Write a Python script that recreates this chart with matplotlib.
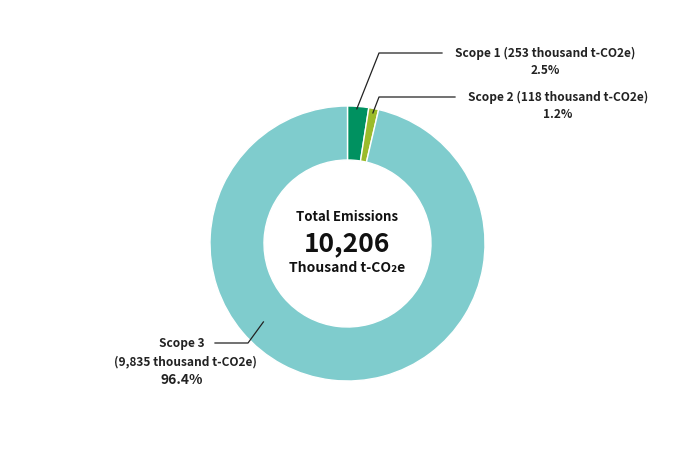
import numpy as np
import matplotlib.pyplot as plt

plt.rcParams['font.family'] = ['Noto Sans CJK JP', 'DejaVu Sans']

# data
scopes = ['Scope 1', 'Scope 2', 'Scope 3']
values = [253, 118, 9835]
amounts = ['253', '118', '9,835']
percents = ['2.5%', '1.2%', '96.4%']
colors = ['#009160', '#9bbb2b', '#7fcccd']
total_label = '10,206'

W, H = 690, 450

fig = plt.figure(figsize=(W / 100, H / 100), dpi=100)
ax = fig.add_axes([0, 0, 1, 1])

cx, cy = 347.5, H - 243.5
r_out = 137.5
ax.pie(values, colors=colors, startangle=90, counterclock=False,
       center=(cx, cy), radius=r_out, frame=True,
       wedgeprops=dict(width=54, edgecolor='white', linewidth=1))
ax.set_xlim(0, W)
ax.set_ylim(0, H)
ax.axis('off')

# wedge mid angles for leader lines
fr = np.array(values) / sum(values)
edges = 90 - 360 * np.concatenate([[0], np.cumsum(fr)])
mids = (edges[:-1] + edges[1:]) / 2


def on_ring(angle, r):
    a = np.deg2rad(angle)
    return cx + r * np.cos(a), cy + r * np.sin(a)


lc = '#222222'
tc = '#222222'
fs = 8.6
# Scope 1
x0, y0 = on_ring(mids[0] + 0.5, 135)
ax.plot([x0, 379, 442], [y0, H - 53, H - 53], color=lc, lw=0.9)
ax.text(455, H - 53, f'{scopes[0]} ({amounts[0]} thousand t-CO2e)', fontsize=fs,
        fontweight='bold', va='center', ha='left', color=tc)
ax.text(545, H - 71, percents[0], fontsize=fs, fontweight='bold',
        va='center', ha='center', color=tc)
# Scope 2
x0, y0 = on_ring(mids[1], 133)
ax.plot([x0, 379, 455], [y0, H - 97, H - 97], color=lc, lw=0.9)
ax.text(468, H - 97, f'{scopes[1]} ({amounts[1]} thousand t-CO2e)', fontsize=fs,
        fontweight='bold', va='center', ha='left', color=tc)
ax.text(558, H - 115, percents[1], fontsize=fs, fontweight='bold',
        va='center', ha='center', color=tc)
# Scope 3
x0, y0 = on_ring(-137, 115)
ax.plot([x0, 248, 215], [y0, H - 343, H - 343], color=lc, lw=0.9)
ax.text(182, H - 343, scopes[2], fontsize=fs, fontweight='bold',
        va='center', ha='center', color=tc)
ax.text(185, H - 362, f'({amounts[2]} thousand t-CO2e)', fontsize=fs,
        fontweight='bold', va='center', ha='center', color=tc)
ax.text(182, H - 380, percents[2], fontsize=10, fontweight='bold',
        va='center', ha='center', color=tc)

# centre text
ax.text(cx, H - 217, 'Total Emissions', fontsize=9.5, fontweight='bold',
        ha='center', va='center', color='#111111')
ax.text(cx, H - 244, total_label, fontsize=19, fontweight='bold',
        ha='center', va='center', color='#111111')
ax.text(cx, H - 268, 'Thousand t-CO\u2082e', fontsize=10,
        fontweight='bold', ha='center', va='center', color='#111111')

fig.savefig('out.png', dpi=100)
